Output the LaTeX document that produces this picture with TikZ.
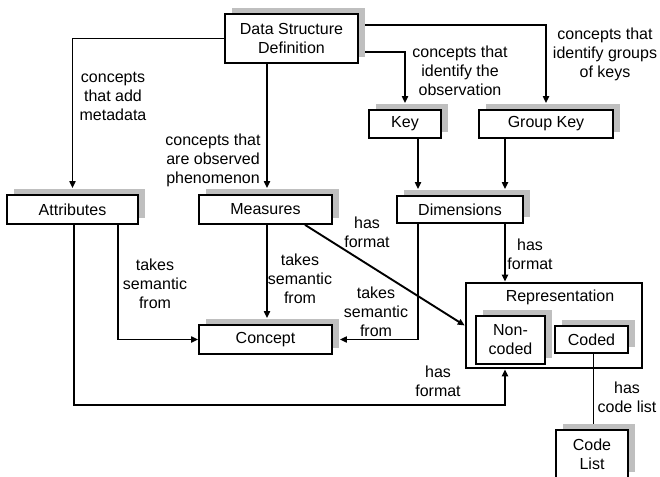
\documentclass[tikz,border=0pt]{standalone}
\usepackage{fontspec}
\setmainfont{Liberation Sans}
\usetikzlibrary{arrows.meta,shadows,backgrounds,calc}
\begin{document}
\begin{tikzpicture}[x=1pt,y=-1pt,
  font=\fontsize{16}{19}\selectfont,
  box/.style={draw=black, line width=1.7pt, fill=white, inner sep=0pt, align=center,
    drop shadow={shadow xshift=7pt, shadow yshift=6pt, fill=gray!50, opacity=1}},
  arr/.style={line width=1.9pt, -{Triangle[length=7pt,width=6pt]}},
  thinline/.style={line width=0.9pt},
  lbl/.style={align=center, inner sep=0pt}]
\useasboundingbox (0,0) rectangle (660,476);
% boxes
\node[box, minimum width=133pt, minimum height=49pt] (dsd) at (291.5,38.5) {Data Structure\\Definition};
\node[box, minimum width=131pt, minimum height=29pt] (attr) at (72.5,209.5) {Attributes};
\node[box, minimum width=133pt, minimum height=29pt] (meas) at (265.5,209.5) {Measures};
\node[box, minimum width=72pt, minimum height=28pt] (key) at (405,124) {Key};
\node[box, minimum width=134pt, minimum height=28pt] (gkey) at (546,124) {Group Key};
\node[box, minimum width=126pt, minimum height=27pt] (dim) at (460,209.5) {Dimensions};
\node[box, minimum width=133pt, minimum height=29pt] (concept) at (265.5,339.5) {Concept};
\node[draw, line width=2.6pt, minimum width=176pt, minimum height=85pt, inner sep=0pt] (rep) at (554,325.5) {};
\node[lbl] (replbl) at (560,297) {Representation};
\node[box, minimum width=69pt, minimum height=48pt] (noncoded) at (510.5,340) {Non-\\coded};
\node[box, minimum width=73pt, minimum height=27pt] (coded) at (591.5,339.5) {Coded};
\node[box, minimum width=72pt, minimum height=48pt] (codelist) at (592,454) {Code\\List};
% helper coordinates
\coordinate (mx) at (267,0);
\coordinate (kx) at (418,0);
\coordinate (gx) at (505,0);
\coordinate (ax1) at (74,0);
\coordinate (ax2) at (118,0);
\coordinate (dx) at (305,0);
\coordinate (y52) at (0,52);
\coordinate (y25) at (0,25);
\coordinate (bl) at (74,405);
\coordinate (cx) at (593,0);
% labels
\node[lbl] (l1) at (113,96) {concepts\\that add\\metadata};
\node[lbl] (l2) at (213,160) {concepts that\\are observed\\phenomenon};
\node[lbl] (l3) at (460,71) {concepts that\\identify the\\observation};
\node[lbl] (l4) at (605,54) {concepts that\\identify groups\\of keys};
\node[lbl] (l5) at (155,284) {takes\\semantic\\from};
\node[lbl] (l6) at (300,279) {takes\\semantic\\from};
\node[lbl] (l7) at (367,232) {has\\format};
\node[lbl] (l8) at (376,312) {takes\\semantic\\from};
\node[lbl] (l9) at (530,254) {has\\format};
\node[lbl] (l10) at (438,381) {has\\format};
\node[lbl] (l11) at (627,397) {has\\code list};
% connectors
\begin{pgfonlayer}{background}
\fill[white] (0,0) rectangle (660,476);
\draw[arr, shorten >=6pt] (dsd.west) -| (attr.north);
\draw[arr, shorten >=6pt] (dsd.south -| mx) -- (meas.north -| mx);
\draw[arr, shorten >=6pt] (dsd.east |- y52) -| (key.north);
\draw[arr, shorten >=6pt] (dsd.east |- y25) -| (gkey.north);
\draw[arr, shorten >=6pt] (key.south -| kx) -- (dim.north -| kx);
\draw[arr, shorten >=6pt] (gkey.south -| gx) -- (dim.north -| gx);
\draw[arr, shorten >=6pt] (meas.south -| mx) -- (concept.north -| mx);
\draw[arr] (attr.south -| ax2) |- (concept.west);
\draw[arr, shorten >=7pt] (dim.south -| kx) |- (concept.east);
\draw[arr] (dim.south -| gx) -- (rep.north -| gx);
\draw[arr] (meas.south -| dx) -- (rep.west);
\draw[arr] (attr.south -| ax1) -- (bl) -| (rep.south -| gx);
\draw[thinline] (coded.south -| cx) -- (codelist.north -| cx);
\end{pgfonlayer}
\end{tikzpicture}
\end{document}
